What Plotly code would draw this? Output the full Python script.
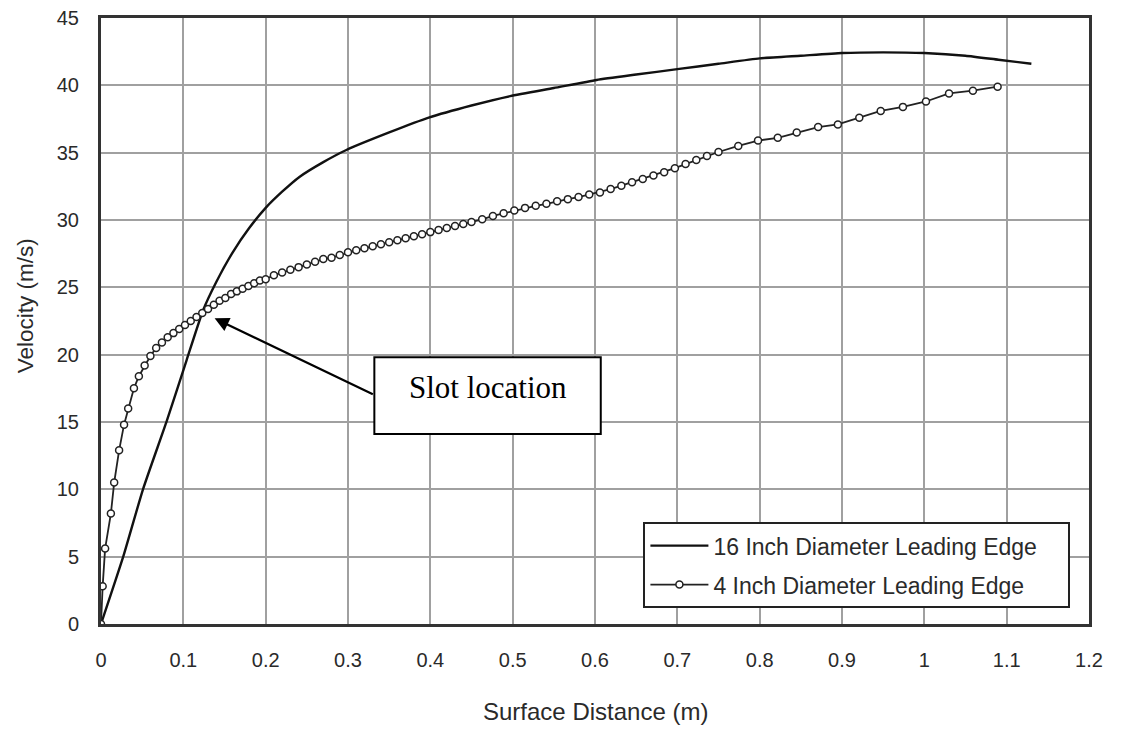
import plotly.graph_objects as go

# 16 inch diameter leading edge (solid line)
x16 = [0.0, 0.027, 0.051, 0.080, 0.104, 0.124, 0.140, 0.160, 0.180, 0.200, 0.220, 0.241, 0.270, 0.298,
       0.350, 0.398, 0.450, 0.497, 0.550, 0.602, 0.650, 0.700, 0.750, 0.800, 0.850, 0.900, 0.950,
       1.000, 1.050, 1.090, 1.130]
y16 = [0.0, 5.0, 10.0, 15.1, 19.6, 23.3, 25.4, 27.6, 29.4, 30.9, 32.1, 33.2, 34.3, 35.2,
       36.5, 37.6, 38.5, 39.2, 39.8, 40.4, 40.8, 41.2, 41.6, 42.0, 42.2, 42.4, 42.45,
       42.4, 42.2, 41.9, 41.6]

# 4 inch diameter leading edge (line with open circle markers)
x4 = [0.000, 0.002, 0.005, 0.012, 0.016, 0.022, 0.028, 0.033, 0.040, 0.046, 0.053, 0.060, 0.067,
      0.074, 0.081, 0.088, 0.095, 0.102, 0.109, 0.116, 0.123, 0.130, 0.137, 0.144, 0.151, 0.158,
      0.165, 0.172, 0.179, 0.186, 0.193, 0.200, 0.210, 0.220, 0.230, 0.240, 0.250, 0.260, 0.270,
      0.280, 0.290, 0.300, 0.310, 0.320, 0.330, 0.340, 0.350, 0.360, 0.370, 0.380, 0.390, 0.400,
      0.410, 0.420, 0.430, 0.440, 0.450, 0.463, 0.476, 0.489, 0.502, 0.515, 0.528, 0.541, 0.554,
      0.567, 0.580, 0.593, 0.606, 0.619, 0.632, 0.645, 0.658, 0.671, 0.684, 0.697, 0.710, 0.723,
      0.736, 0.750, 0.774, 0.798, 0.822, 0.845, 0.871, 0.895, 0.921, 0.947, 0.974, 1.002, 1.030,
      1.059, 1.089]
y4 = [0.0, 2.8, 5.6, 8.2, 10.5, 12.9, 14.8, 16.0, 17.5, 18.4, 19.2, 19.9, 20.5,
      20.9, 21.3, 21.6, 21.9, 22.2, 22.5, 22.8, 23.1, 23.4, 23.7, 24.0, 24.2, 24.5,
      24.7, 24.9, 25.1, 25.3, 25.5, 25.6, 25.9, 26.1, 26.3, 26.5, 26.7, 26.9, 27.1,
      27.2, 27.4, 27.6, 27.75, 27.9, 28.05, 28.2, 28.35, 28.5, 28.65, 28.8, 28.95, 29.1,
      29.25, 29.4, 29.55, 29.7, 29.85, 30.05, 30.3, 30.5, 30.7, 30.9, 31.05, 31.2, 31.4,
      31.55, 31.7, 31.9, 32.05, 32.3, 32.55, 32.8, 33.05, 33.3, 33.55, 33.85, 34.15, 34.45,
      34.75, 35.05, 35.5, 35.9, 36.1, 36.5, 36.9, 37.1, 37.6, 38.1, 38.4, 38.8, 39.4,
      39.6, 39.9]

x_ticks = [0, 0.1, 0.2, 0.3, 0.4, 0.5, 0.6, 0.7, 0.8, 0.9, 1, 1.1, 1.2]
y_ticks = [0, 5, 10, 15, 20, 25, 30, 35, 40, 45]

# annotation: arrow tip and slot-location box (data coords)
slot_tip = (0.138, 22.7)
slot_box = (0.332, 0.607, 14.1, 19.8)

FONT = "Liberation Sans, Arial, sans-serif"
TXT = "#2a2a2a"
PAD = "\u00a0\u00a0\u00a0\u00a0"

fig = go.Figure()
fig.add_trace(go.Scatter(
    x=x16, y=y16, mode="lines", name="16 Inch Diameter Leading Edge" + PAD, legendgroup="a",
    line=dict(color="#111111", width=2.4, shape="spline", smoothing=0.5)))
fig.add_trace(go.Scatter(
    x=x4, y=y4, mode="lines+markers", name="4 Inch Diameter Leading Edge" + PAD, legendgroup="b",
    line=dict(color="#222222", width=1.8),
    marker=dict(symbol="circle", size=7, color="white", line=dict(color="#222222", width=1.5))))

fig.update_xaxes(range=[0, 1.2], tickvals=x_ticks, ticktext=[f"{v:g}" for v in x_ticks],
                 showgrid=True, gridcolor="#a0a0a0", gridwidth=2, automargin=False,
                 showline=True, linecolor="#333333", linewidth=3, mirror=True,
                 zeroline=False, ticks="", ticklabelstandoff=16, ticklabeloverflow="allow",
                 tickfont=dict(family=FONT, size=20, color=TXT))
fig.update_yaxes(range=[0, 45], tickvals=y_ticks,
                 showgrid=True, gridcolor="#a0a0a0", gridwidth=2, automargin=False,
                 showline=True, linecolor="#333333", linewidth=3, mirror=True,
                 zeroline=False, ticks="", ticklabelstandoff=15, ticklabeloverflow="allow",
                 tickfont=dict(family=FONT, size=20, color=TXT))

fig.add_shape(type="rect", xref="x", yref="y",
              x0=slot_box[0], x1=slot_box[1], y0=slot_box[2], y1=slot_box[3],
              line=dict(color="black", width=2), fillcolor="white", layer="above")
fig.add_annotation(x=(slot_box[0] + slot_box[1]) / 2, y=17.55, xref="x", yref="y",
                   text="Slot location", showarrow=False,
                   font=dict(family="Liberation Serif, Times New Roman, serif", size=31, color="black"))
fig.add_annotation(x=slot_tip[0], y=slot_tip[1], xref="x", yref="y",
                   ax=slot_box[0], ay=17.0, axref="x", ayref="y",
                   text="", showarrow=True, arrowhead=2, arrowsize=1.3, arrowwidth=2.2,
                   arrowcolor="black")

fig.add_annotation(x=0.5, y=-0.1436, xref="paper", yref="paper", text="Surface Distance (m)",
                   xanchor="center", yanchor="middle",
                   showarrow=False, font=dict(family=FONT, size=24, color=TXT))
fig.add_annotation(x=-0.077, y=0.526, xref="paper", yref="paper", text="Velocity (m/s)",
                   xanchor="center", yanchor="middle",
                   textangle=-90, showarrow=False, font=dict(family=FONT, size=22.5, color=TXT))

fig.update_layout(
    width=1135, height=736,
    margin=dict(l=101, r=46, t=18, b=112, autoexpand=False),
    paper_bgcolor="white", plot_bgcolor="white",
    showlegend=True,
    legend=dict(x=0.549, y=0.168, xanchor="left", yanchor="top",
                bgcolor="white", bordercolor="#222222", borderwidth=2,
                itemwidth=58,
                font=dict(family=FONT, size=23, color=TXT), tracegroupgap=6),
)

fig.write_html("out.html", config={"displayModeBar": False},
               post_script="document.body.style.margin='0';")
